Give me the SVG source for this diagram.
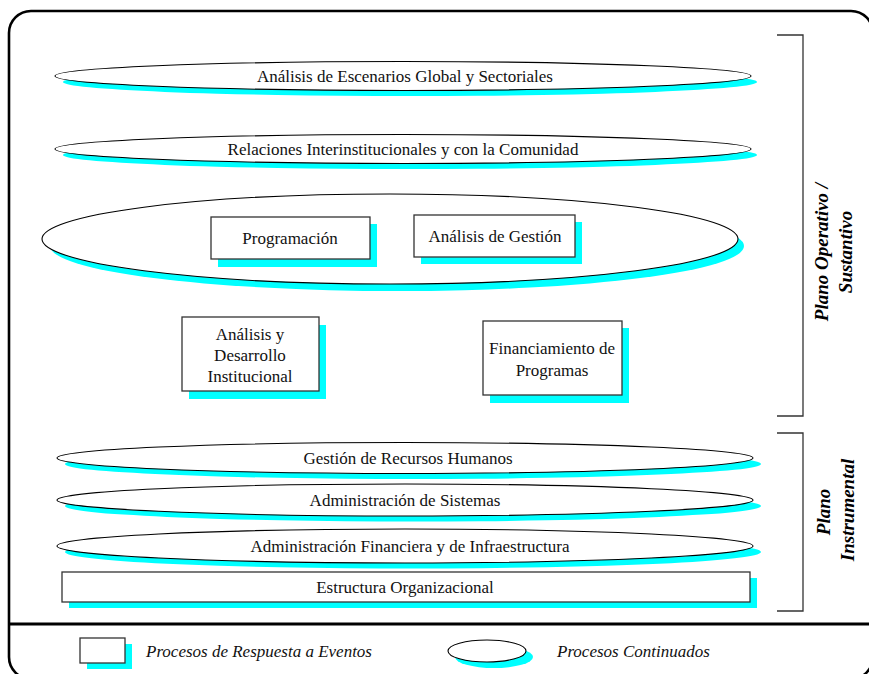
<svg xmlns="http://www.w3.org/2000/svg" width="869" height="674" viewBox="0 0 869 674">
<style>
.sh{fill:#00FFFF;stroke:none}
.el{fill:#fff;stroke:#000;stroke-width:1.1}
.bx{fill:#fff;stroke:#333;stroke-width:1.3}
.br{fill:none;stroke:#333;stroke-width:1.3}
</style>
<rect x="9" y="11" width="864" height="668" rx="22" fill="#fff" stroke="#000" stroke-width="2.6"/>
<line x1="9" y1="624" x2="869" y2="624" stroke="#000" stroke-width="3"/>
<g font-family="Liberation Serif, serif" font-size="17" fill="#111" text-anchor="middle" dominant-baseline="central">
<g id="n1"><ellipse class="sh" cx="410" cy="82" rx="347" ry="14"/><ellipse class="el" cx="403" cy="76" rx="348" ry="14.5"/><text x="405" y="76">Análisis de Escenarios Global y Sectoriales</text></g>
<g id="n2"><ellipse class="sh" cx="410" cy="155" rx="347" ry="14"/><ellipse class="el" cx="403" cy="149" rx="348" ry="14.5"/><text x="403" y="149">Relaciones Interinstitucionales y con la Comunidad</text></g>
<g id="n3"><ellipse class="sh" cx="397" cy="246" rx="347" ry="45"/><ellipse class="el" cx="390" cy="239" rx="348" ry="45"/></g>
<g id="n4"><rect class="sh" x="218" y="224" width="159" height="43"/><rect class="bx" x="211" y="217" width="159" height="42"/><text x="290" y="238">Programación</text></g>
<g id="n5"><rect class="sh" x="421" y="222" width="161" height="42"/><rect class="bx" x="414" y="215" width="161" height="42"/><text x="495" y="236">Análisis de Gestión</text></g>
<g id="n6"><rect class="sh" x="189" y="325" width="137" height="74"/><rect class="bx" x="182" y="317" width="137" height="74"/><text x="250" y="334">Análisis y</text><text x="250" y="355">Desarrollo</text><text x="250" y="376">Institucional</text></g>
<g id="n7"><rect class="sh" x="490" y="328" width="139" height="75"/><rect class="bx" x="483" y="321" width="139" height="74"/><text x="552" y="348">Financiamiento de</text><text x="552" y="370">Programas</text></g>
<g id="n8"><ellipse class="sh" cx="413" cy="464" rx="348" ry="15"/><ellipse class="el" cx="405" cy="458" rx="348" ry="15.5"/><text x="408" y="458">Gestión de Recursos Humanos</text></g>
<g id="n9"><ellipse class="sh" cx="413" cy="506" rx="348" ry="15.5"/><ellipse class="el" cx="405" cy="500" rx="348" ry="16"/><text x="405" y="500">Administración de Sistemas</text></g>
<g id="n10"><ellipse class="sh" cx="413" cy="552" rx="348" ry="16.5"/><ellipse class="el" cx="405" cy="546" rx="348" ry="17"/><text x="410" y="546">Administración Financiera y de Infraestructura</text></g>
<g id="n11"><rect class="sh" x="69" y="578" width="688" height="30"/><rect class="bx" x="62" y="572" width="688" height="30"/><text x="405" y="587">Estructura Organizacional</text></g>
<g id="brackets" font-size="19" font-style="italic" font-weight="bold" fill="#000">
<polyline class="br" points="777,35 803,35 803,416 777,416"/>
<polyline class="br" points="777,433 803,433 803,611 777,611"/>
<text transform="translate(821,252) rotate(-90)">Plano Operativo /</text>
<text transform="translate(845,252) rotate(-90)">Sustantivo</text>
<text transform="translate(823,512) rotate(-90)">Plano</text>
<text transform="translate(847,510) rotate(-90)">Instrumental</text>
</g>
<g id="legend" font-style="italic" text-anchor="start">
<rect class="sh" x="87" y="644" width="45" height="25"/><rect class="bx" x="80" y="638" width="45" height="25"/>
<text x="146" y="651">Procesos de Respuesta a Eventos</text>
<ellipse class="sh" cx="494" cy="657" rx="39" ry="11"/><ellipse class="el" cx="487" cy="651" rx="39" ry="11"/>
<text x="557" y="651">Procesos Continuados</text>
</g>
</g>
<g id="connectors"/>
</svg>
